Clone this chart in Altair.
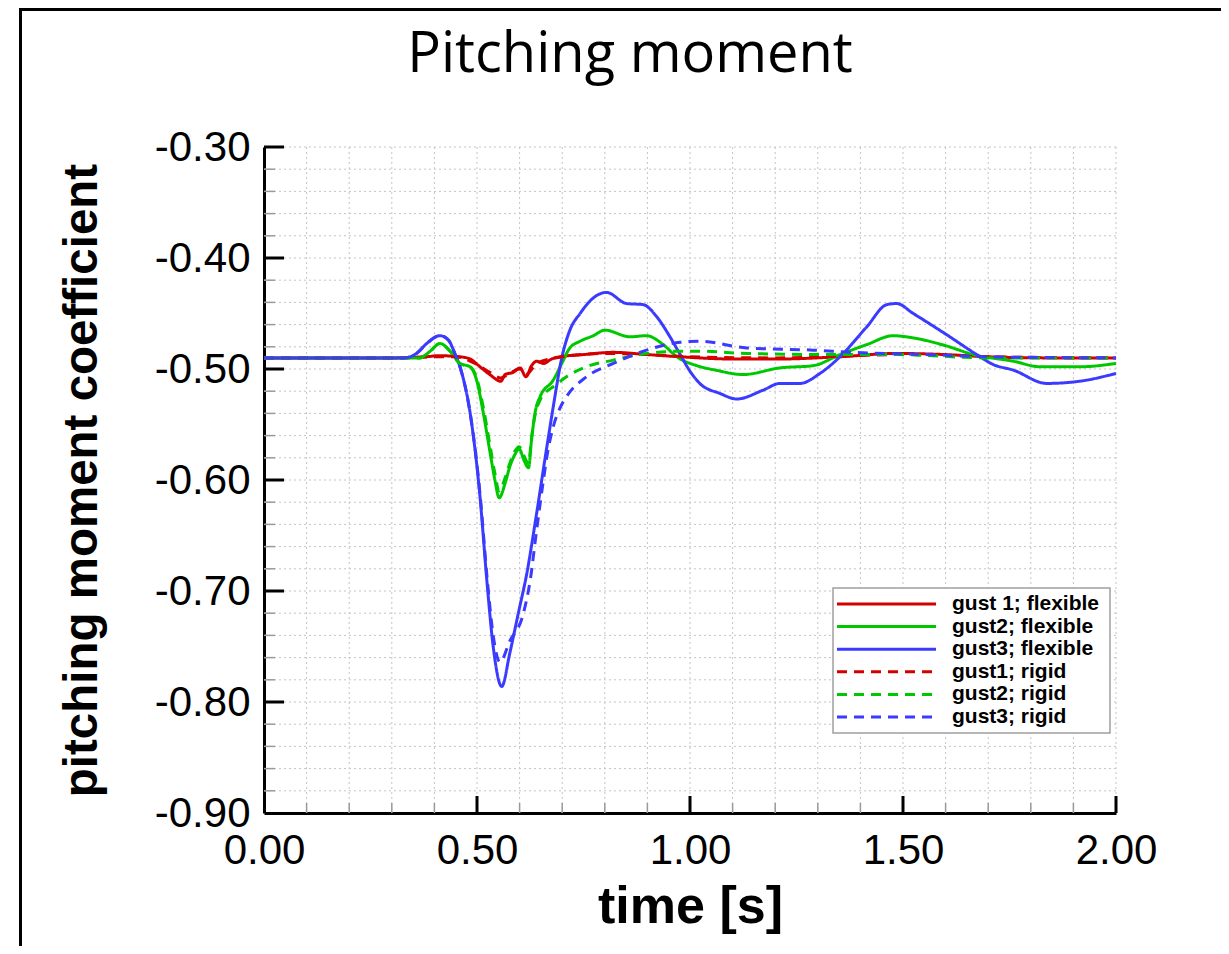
import altair as alt
import pandas as pd

# ---------------- data ----------------
series_names = ["gust 1; flexible", "gust2; flexible", "gust3; flexible",
                "gust1; rigid", "gust2; rigid", "gust3; rigid"]

t_g1f = [0.00, 0.30, 0.38, 0.41, 0.46, 0.484, 0.507, 0.53, 0.556, 0.566, 0.585, 0.601, 0.615, 0.628,
         0.640, 0.656, 0.675, 0.695, 0.75, 0.82, 0.90, 0.977, 1.10, 1.21, 1.35, 1.485, 1.60, 1.70, 1.85, 2.00]
cm_g1f = [-0.490, -0.490, -0.489, -0.488, -0.489, -0.491, -0.498, -0.505, -0.511, -0.505, -0.503, -0.499,
          -0.507, -0.497, -0.493, -0.495, -0.491, -0.489, -0.487, -0.485, -0.487, -0.489, -0.491, -0.491,
          -0.489, -0.486, -0.487, -0.489, -0.490, -0.490]

t_g2f = [0.00, 0.30, 0.366, 0.390, 0.413, 0.437, 0.460, 0.484, 0.499, 0.515, 0.531, 0.542, 0.552, 0.566,
         0.577, 0.589, 0.599, 0.610, 0.621, 0.628, 0.636, 0.648, 0.679, 0.699, 0.718, 0.742, 0.773, 0.800,
         0.859, 0.898, 0.937, 0.969, 1.016, 1.060, 1.125, 1.211, 1.289, 1.352, 1.415, 1.477, 1.524, 1.600,
         1.665, 1.759, 1.822, 1.915, 2.000]
cm_g2f = [-0.490, -0.490, -0.490, -0.484, -0.477, -0.484, -0.495, -0.498, -0.510, -0.540, -0.576, -0.600,
          -0.616, -0.603, -0.588, -0.577, -0.572, -0.582, -0.589, -0.564, -0.540, -0.525, -0.510, -0.495,
          -0.481, -0.475, -0.470, -0.465, -0.471, -0.470, -0.478, -0.489, -0.497, -0.501, -0.505, -0.499,
          -0.497, -0.487, -0.478, -0.470, -0.472, -0.479, -0.487, -0.493, -0.498, -0.498, -0.495]

t_g3f = [0.00, 0.30, 0.330, 0.358, 0.382, 0.413, 0.433, 0.448, 0.460, 0.484, 0.507, 0.523, 0.538, 0.558,
         0.577, 0.597, 0.617, 0.640, 0.664, 0.679, 0.699, 0.718, 0.742, 0.773, 0.804, 0.851, 0.890, 0.922,
         0.953, 0.977, 1.000, 1.023, 1.070, 1.110, 1.172, 1.211, 1.258, 1.305, 1.352, 1.415, 1.462, 1.485,
         1.524, 1.602, 1.673, 1.712, 1.759, 1.837, 1.915, 2.000]
cm_g3f = [-0.490, -0.490, -0.490, -0.486, -0.477, -0.470, -0.474, -0.486, -0.498, -0.540, -0.615, -0.690,
          -0.750, -0.786, -0.756, -0.720, -0.684, -0.630, -0.570, -0.534, -0.490, -0.465, -0.450, -0.436,
          -0.431, -0.441, -0.442, -0.453, -0.471, -0.487, -0.502, -0.513, -0.522, -0.527, -0.519, -0.513,
          -0.513, -0.504, -0.489, -0.462, -0.442, -0.441, -0.450, -0.469, -0.487, -0.496, -0.501, -0.513,
          -0.511, -0.504]

t_g1r = [0.00, 0.30, 0.40, 0.45, 0.50, 0.53, 0.556, 0.58, 0.60, 0.615, 0.64, 0.67, 0.70, 0.80, 0.90,
         1.00, 1.20, 1.50, 1.70, 2.00]
cm_g1r = [-0.490, -0.490, -0.489, -0.489, -0.496, -0.503, -0.508, -0.503, -0.500, -0.505, -0.495, -0.491,
          -0.489, -0.486, -0.487, -0.489, -0.490, -0.487, -0.489, -0.490]

t_g2r = [0.00, 0.30, 0.366, 0.390, 0.413, 0.437, 0.460, 0.484, 0.499, 0.515, 0.531, 0.542, 0.552, 0.566,
         0.577, 0.589, 0.599, 0.610, 0.621, 0.628, 0.636, 0.648, 0.664, 0.679, 0.710, 0.757, 0.820, 0.898,
         0.977, 1.023, 1.133, 1.332, 1.485, 1.700, 2.000]
cm_g2r = [-0.490, -0.490, -0.490, -0.484, -0.477, -0.484, -0.495, -0.498, -0.508, -0.535, -0.570, -0.594,
          -0.610, -0.598, -0.585, -0.574, -0.570, -0.578, -0.585, -0.562, -0.542, -0.528, -0.520, -0.516,
          -0.507, -0.498, -0.492, -0.486, -0.484, -0.484, -0.486, -0.487, -0.487, -0.490, -0.490]

t_g3r = [0.00, 0.30, 0.330, 0.358, 0.382, 0.413, 0.433, 0.448, 0.460, 0.484, 0.507, 0.523, 0.538, 0.554,
         0.577, 0.609, 0.625, 0.640, 0.656, 0.664, 0.679, 0.695, 0.710, 0.757, 0.820, 0.898, 0.977, 1.023,
         1.133, 1.289, 1.383, 1.550, 1.700, 2.000]
cm_g3r = [-0.490, -0.490, -0.490, -0.486, -0.477, -0.470, -0.474, -0.486, -0.498, -0.540, -0.612, -0.685,
          -0.740, -0.764, -0.745, -0.720, -0.690, -0.645, -0.600, -0.579, -0.552, -0.535, -0.525, -0.507,
          -0.495, -0.483, -0.476, -0.475, -0.481, -0.483, -0.485, -0.487, -0.489, -0.490]

# axis tick positions / labels
x_major = [0.0, 0.5, 1.0, 1.5, 2.0]
x_minor = [0.1, 0.2, 0.3, 0.4, 0.6, 0.7, 0.8, 0.9, 1.1, 1.2, 1.3, 1.4, 1.6, 1.7, 1.8, 1.9]
y_major = [-0.90, -0.80, -0.70, -0.60, -0.50, -0.40, -0.30]
y_minor = [v for v in (round(-0.90 + 0.02 * i, 2) for i in range(31)) if abs(v * 10 - round(v * 10)) > 1e-6]

# ---------------- styles ----------------
line_colors = ["#d40000", "#00c800", "#3b3bff", "#d40000", "#00c800", "#3b3bff"]
line_dashes = [[1, 0], [1, 0], [1, 0], [10, 7], [10, 7], [10, 7]]

series_t = [t_g1f, t_g2f, t_g3f, t_g1r, t_g2r, t_g3r]
series_cm = [cm_g1f, cm_g2f, cm_g3f, cm_g1r, cm_g2r, cm_g3r]
rows = []
for name, ts, cs in zip(series_names, series_t, series_cm):
    assert len(ts) == len(cs), name
    for t, c in zip(ts, cs):
        rows.append({"t": t, "cm": c, "series": name})
df = pd.DataFrame(rows)

W, H = 852, 666
xscale = alt.Scale(domain=[0, 2], nice=False, zero=False)
yscale = alt.Scale(domain=[-0.9, -0.3], nice=False, zero=False)
color_scale = alt.Scale(domain=series_names, range=line_colors)
dash_scale = alt.Scale(domain=series_names, range=line_dashes)

x_axis = alt.Axis(
    values=x_major, format=".2f",
    grid=False, ticks=False, domain=True, domainColor="black", domainWidth=3,
    labelFont="Liberation Sans", labelFontSize=42, labelColor="black", labelPadding=17,
    labelFlush=False, labelOverlap=False,
    title="time [s]", titleFont="Liberation Sans", titleFontSize=52, titleFontWeight="bold",
    titleColor="black", titleBaseline="middle", titleX=W / 2, titleY=93,
)
y_axis = alt.Axis(
    values=y_major,
    labelExpr="(datum.value < 0 ? '-' : '') + format(abs(datum.value), '.2f')",
    grid=False, ticks=False, domain=True, domainColor="black", domainWidth=3,
    labelFont="Liberation Sans", labelFontSize=42, labelColor="black", labelPadding=14,
    labelOverlap=False,
    title="pitching moment coefficient", titleFont="Liberation Sans", titleFontSize=47.5,
    titleFontWeight="bold", titleColor="black", titleBaseline="middle", titleX=-182, titleY=H / 2,
)

grid_style = dict(color="#c4c4c4", strokeWidth=1, strokeDash=[2, 3])
xgrid = alt.Chart(pd.DataFrame({"t": x_minor + x_major[1:]})).mark_rule(**grid_style).encode(
    x=alt.X("t:Q", scale=xscale), y=alt.value(0), y2=alt.value(H))
ygrid = alt.Chart(pd.DataFrame({"cm": y_minor + y_major[1:]})).mark_rule(**grid_style).encode(
    y=alt.Y("cm:Q", scale=yscale), x=alt.value(0), x2=alt.value(W))

lines = alt.Chart(df).mark_line(strokeWidth=3, interpolate="monotone").encode(
    x=alt.X("t:Q", scale=xscale, axis=x_axis),
    y=alt.Y("cm:Q", scale=yscale, axis=y_axis),
    color=alt.Color("series:N", scale=color_scale, legend=None),
    strokeDash=alt.StrokeDash("series:N", scale=dash_scale, legend=None),
)

xmaj = alt.Chart(pd.DataFrame({"t": x_major[1:]})).mark_rule(color="black", strokeWidth=3).encode(
    x=alt.X("t:Q", scale=xscale), y=alt.value(H), y2=alt.value(H - 17))
xmin = alt.Chart(pd.DataFrame({"t": x_minor})).mark_rule(color="#9a9a9a", strokeWidth=1.5).encode(
    x=alt.X("t:Q", scale=xscale), y=alt.value(H), y2=alt.value(H - 10))
ymaj = alt.Chart(pd.DataFrame({"cm": y_major[1:]})).mark_rule(color="black", strokeWidth=3).encode(
    y=alt.Y("cm:Q", scale=yscale), x=alt.value(0), x2=alt.value(20))
ymin = alt.Chart(pd.DataFrame({"cm": y_minor})).mark_rule(color="#9a9a9a", strokeWidth=1.5).encode(
    y=alt.Y("cm:Q", scale=yscale), x=alt.value(0), x2=alt.value(11))

main = alt.layer(xgrid, ygrid, lines, xmin, ymin, xmaj, ymaj)

# decorations: page frame, title, legend
one = pd.DataFrame({"s": ["Pitching moment"]})
frame_top = alt.Chart(one).mark_rect(color="black").encode(
    x=alt.value(-245), x2=alt.value(966), y=alt.value(-139), y2=alt.value(-136))
frame_left = alt.Chart(one).mark_rect(color="black").encode(
    x=alt.value(-245), x2=alt.value(-242), y=alt.value(-139), y2=alt.value(810))
title = alt.Chart(one).mark_text(font="Open Sans", fontSize=56, baseline="alphabetic",
                                 align="center", color="black").encode(
    text="s:N", x=alt.value(366), y=alt.value(-75))

leg_df = pd.DataFrame({"series": series_names, "row": list(range(len(series_names)))})
leg_y = alt.Y("row:Q", scale=alt.Scale(domain=[0, 5], range=[457, 570]), axis=None)
leg_box = alt.Chart(one).mark_rect(fill="white", stroke="#a0a0a0", strokeWidth=1.5).encode(
    x=alt.value(569), x2=alt.value(846), y=alt.value(441), y2=alt.value(586))
leg_lines = alt.Chart(leg_df).mark_rule(strokeWidth=3).encode(
    x=alt.value(573), x2=alt.value(672), y=leg_y,
    color=alt.Color("series:N", scale=color_scale, legend=None),
    strokeDash=alt.StrokeDash("series:N", scale=dash_scale, legend=None))
leg_text = alt.Chart(leg_df).mark_text(align="left", baseline="middle", font="Liberation Sans",
                                       fontSize=21, fontWeight="bold", color="black").encode(
    x=alt.value(688), y=leg_y, text="series:N")

deco = alt.layer(frame_top, frame_left, title, leg_box, leg_lines, leg_text)

chart = alt.layer(main, deco).resolve_scale(y="independent").properties(
    width=W, height=H,
    padding={"left": 256, "top": 139, "right": 105, "bottom": 133},
    autosize=alt.AutoSizeParams(type="none"),
    background="white",
).configure_view(stroke=None)

chart.save("out.html", embed_options={"renderer": "svg", "actions": False})
